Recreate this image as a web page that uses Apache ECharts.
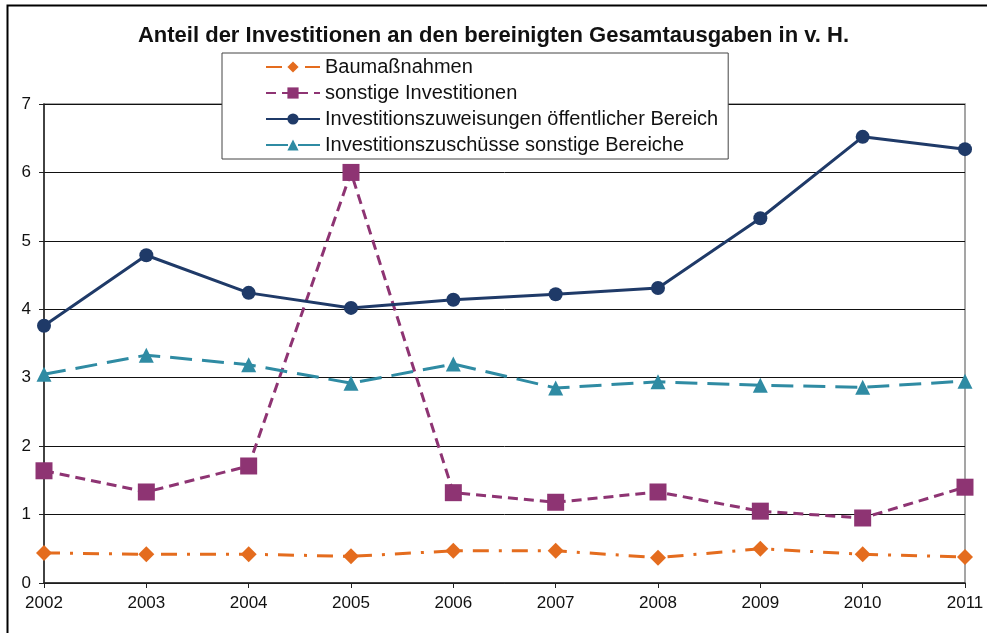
<!DOCTYPE html>
<html>
<head>
<meta charset="utf-8">
<script src="https://cdn.jsdelivr.net/npm/echarts@6/dist/echarts.min.js"></script>
<style>
  html, body { margin: 0; padding: 0; background: #fff; }
  #main { width: 987px; height: 633px; }
</style>
</head>
<body>
<div id="main"></div>
<script>
// Jahre und Werte (in v. H.)
var years = ['2002', '2003', '2004', '2005', '2006', '2007', '2008', '2009', '2010', '2011'];
var baumassnahmen = [0.44, 0.42, 0.42, 0.39, 0.47, 0.47, 0.37, 0.50, 0.42, 0.38];
var sonstigeInv = [1.64, 1.33, 1.71, 6.00, 1.32, 1.18, 1.33, 1.05, 0.95, 1.40];
var zuweisungen = [3.76, 4.79, 4.24, 4.02, 4.14, 4.22, 4.31, 5.33, 6.52, 6.34];
var zuschuesse = [3.05, 3.33, 3.19, 2.92, 3.20, 2.85, 2.94, 2.89, 2.86, 2.95];
var yTicks = [0, 1, 2, 3, 4, 5, 6, 7];

var fontFam = 'Liberation Sans, Arial, sans-serif';

var chartObj = echarts.init(document.getElementById('main'));

var chartOpt = {
    backgroundColor: '#fff',
    animation: false,
    title: {
        text: 'Anteil der Investitionen an den bereinigten Gesamtausgaben in v. H.',
        left: 'center',
        top: 20,
        textStyle: { fontFamily: fontFam, fontSize: 22, fontWeight: 'bold', color: '#111' }
    },
    graphic: [{
        type: 'rect',
        shape: { x: 7.5, y: 5.5, width: 1000, height: 700 },
        style: { fill: null, stroke: '#000', lineWidth: 2 },
        silent: true
    }],
    legend: {
        orient: 'vertical',
        left: 222,
        top: 53,
        width: 509,
        padding: [4, 10, 4, 43],
        itemGap: 6,
        itemWidth: 54,
        itemHeight: 14,
        backgroundColor: '#fff',
        borderColor: '#444',
        borderWidth: 1,
        textStyle: { fontFamily: fontFam, fontSize: 20, color: '#111' },
        data: ['Baumaßnahmen', 'sonstige Investitionen',
               'Investitionszuweisungen öffentlicher Bereich',
               'Investitionszuschüsse sonstige Bereiche']
    },
    grid: { left: 44, right: 22, top: 104, bottom: 50, show: true, borderColor: '#888', borderWidth: 1.5 },
    xAxis: {
        type: 'category',
        data: years,
        boundaryGap: false,
        axisLine: { lineStyle: { color: '#222', width: 1.5 } },
        axisTick: { show: true, length: 5, lineStyle: { color: '#222' } },
        axisLabel: { fontFamily: fontFam, fontSize: 17, color: '#111', margin: 12 },
        splitLine: { show: false }
    },
    yAxis: {
        type: 'value',
        min: yTicks[0],
        max: yTicks[yTicks.length - 1],
        interval: 1,
        axisLine: { show: true, lineStyle: { color: '#222', width: 1.5 } },
        axisTick: { show: true, length: 5, lineStyle: { color: '#222' } },
        axisLabel: { fontFamily: fontFam, fontSize: 17, color: '#111', margin: 13 },
        splitLine: { show: true, lineStyle: { color: '#111', width: 1 } }
    },
    series: [
        {
            name: 'Baumaßnahmen',
            type: 'line',
            data: baumassnahmen,
            symbol: 'diamond',
            symbolSize: 16,
            color: '#E46C1E',
            lineStyle: { width: 3, type: [16, 10, 3, 10] },
            z: 4
        },
        {
            name: 'sonstige Investitionen',
            type: 'line',
            data: sonstigeInv,
            symbol: 'rect',
            symbolSize: 17,
            color: '#8E3473',
            lineStyle: { width: 3, type: [10, 6] },
            z: 3
        },
        {
            name: 'Investitionszuweisungen öffentlicher Bereich',
            type: 'line',
            data: zuweisungen,
            symbol: 'circle',
            symbolSize: 14,
            color: '#1F3A68',
            lineStyle: { width: 3, type: 'solid' },
            z: 5
        },
        {
            name: 'Investitionszuschüsse sonstige Bereiche',
            type: 'line',
            data: zuschuesse,
            symbol: 'triangle',
            symbolSize: 15,
            color: '#2F8BA3',
            lineStyle: { width: 3, type: [22, 10] },
            z: 4
        }
    ]
};

chartObj.setOption(chartOpt);
</script>
</body>
</html>
